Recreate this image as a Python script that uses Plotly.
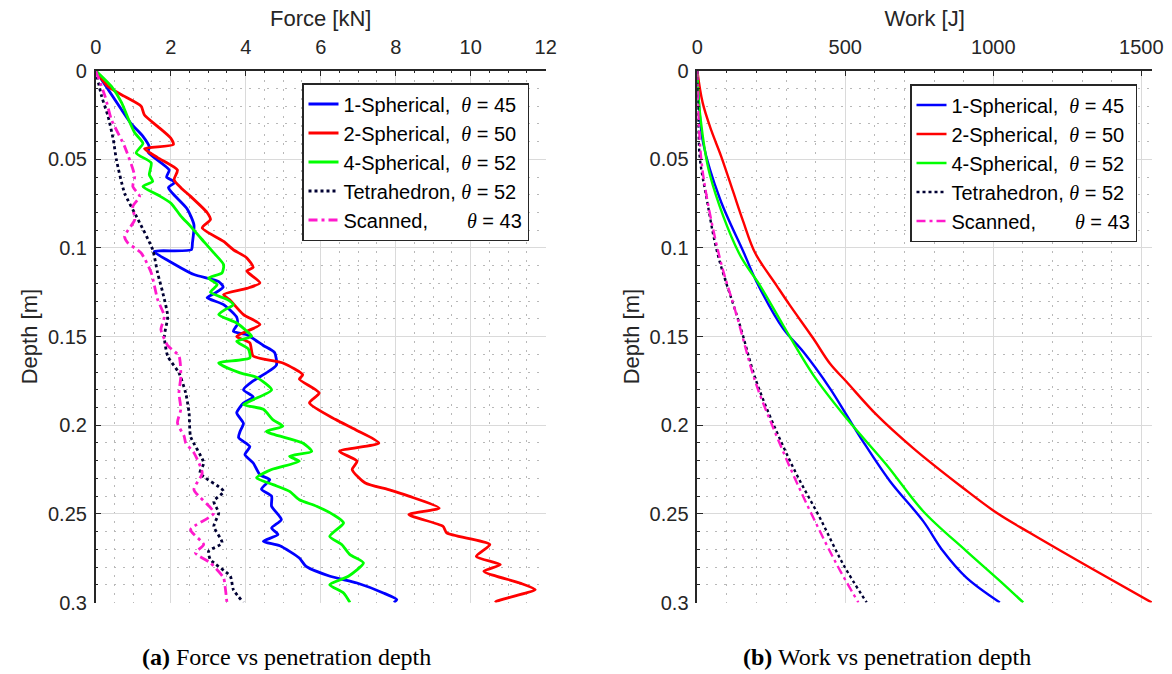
import plotly.graph_objects as go

# ---------------- data: (a) force vs depth ----------------
depth_f_sph1 = [0.000, 0.022, 0.030, 0.037, 0.043, 0.046, 0.056, 0.060, 0.063, 0.066, 0.078, 0.087, 0.097,
                0.101, 0.102, 0.109, 0.115, 0.119, 0.122, 0.1255, 0.128, 0.132, 0.139, 0.143, 0.147, 0.149,
                0.155, 0.159, 0.166, 0.1705, 0.175, 0.180, 0.184, 0.1875, 0.193, 0.199, 0.2035, 0.207, 0.212,
                0.2166, 0.2213, 0.228, 0.2307, 0.236, 0.240, 0.2457, 0.2532, 0.258, 0.2617, 0.2655, 0.268,
                0.2749, 0.2796, 0.2852, 0.289, 0.2946, 0.2984, 0.300]
force_sph1 = [0.00, 0.69, 0.95, 1.26, 1.43, 1.40, 1.96, 1.89, 2.11, 1.94, 2.44, 2.62, 2.58,
              2.55, 1.56, 2.09, 2.62, 3.28, 3.40, 3.18, 2.97, 3.41, 3.76, 3.78, 3.67, 4.03,
              4.47, 4.77, 4.82, 4.55, 4.20, 3.94, 4.20, 3.94, 3.76, 3.94, 3.85, 3.81, 4.11,
              3.98, 4.20, 4.38, 4.64, 4.42, 4.69, 4.69, 4.95, 4.69, 4.86, 4.47, 4.91,
              5.43, 5.61, 6.25, 6.97, 7.67, 8.03, 7.95]

depth_f_sph2 = [0.000, 0.0089, 0.0145, 0.020, 0.025, 0.0314, 0.038, 0.0417, 0.044, 0.049, 0.056, 0.0615,
                0.066, 0.0709, 0.080, 0.084, 0.0887, 0.0963, 0.101, 0.1056, 0.111, 0.113, 0.1197, 0.1228,
                0.1263, 0.1294, 0.1376, 0.1432, 0.1499, 0.1536, 0.161, 0.1649, 0.1715, 0.174, 0.1818,
                0.1874, 0.1968, 0.2025, 0.210, 0.2147, 0.2203, 0.225, 0.2326, 0.2363, 0.240, 0.2467,
                0.2504, 0.257, 0.2607, 0.2673, 0.274, 0.2786, 0.2824, 0.289, 0.2927, 0.2965, 0.2993, 0.300]
force_sph2 = [0.00, 0.33, 0.77, 1.21, 1.30, 1.65, 2.00, 2.07, 1.30, 1.65, 2.18, 2.09,
              2.27, 2.53, 2.97, 3.06, 2.84, 3.41, 3.67, 4.03, 4.20, 4.03, 4.38, 4.03,
              3.41, 3.58, 3.94, 4.38, 3.76, 4.11, 4.20, 4.99, 5.52, 5.43, 5.96,
              5.70, 6.40, 6.93, 7.55, 6.50, 6.97, 6.84, 7.19, 7.81, 8.35, 9.16,
              8.35, 9.26, 9.36, 10.51, 10.15, 10.79, 10.35, 11.31, 11.72, 11.14, 10.69, 10.65]

depth_f_sph4 = [0.000, 0.0089, 0.018, 0.0267, 0.035, 0.041, 0.0464, 0.052, 0.0587, 0.0624, 0.0653, 0.070,
                0.0746, 0.082, 0.0878, 0.0944, 0.1028, 0.1094, 0.114, 0.117, 0.1207, 0.125, 0.129, 0.132,
                0.1348, 0.1376, 0.1423, 0.147, 0.1499, 0.1527, 0.157, 0.162, 0.1649, 0.1705, 0.173, 0.180,
                0.1856, 0.1884, 0.191, 0.197, 0.2006, 0.2035, 0.210, 0.2147, 0.2175, 0.2203, 0.225,
                0.2297, 0.2335, 0.2373, 0.242, 0.2457, 0.2504, 0.2551, 0.2627, 0.2673, 0.273, 0.2777,
                0.2852, 0.290, 0.2946, 0.300]
force_sph4 = [0.00, 0.42, 0.69, 0.86, 1.04, 1.26, 1.08, 1.48, 1.43, 1.52, 1.26, 1.65,
              2.00, 2.27, 2.53, 2.80, 3.15, 3.41, 3.37, 3.01, 3.24, 3.06, 3.50, 3.67,
              3.45, 3.28, 3.76, 4.03, 4.16, 3.76, 4.07, 4.11, 3.28, 3.85, 4.29, 4.69,
              4.20, 3.94, 4.47, 4.73, 4.99, 4.55, 5.52, 5.76, 5.17, 5.43, 4.69,
              4.29, 4.73, 5.17, 5.43, 5.89, 6.33, 6.61, 6.24, 6.56, 6.78, 7.14,
              6.74, 6.24, 6.61, 6.78]

depth_f_tetra = [0.000, 0.0145, 0.0258, 0.039, 0.050, 0.069, 0.084, 0.101, 0.114, 0.1254, 0.1386, 0.150,
                 0.161, 0.1705, 0.1818, 0.193, 0.2063, 0.2213, 0.227, 0.2373, 0.2429, 0.2495, 0.257,
                 0.2664, 0.2711, 0.2758, 0.2852, 0.2927, 0.300]
force_tetra = [0.00, 0.16, 0.33, 0.47, 0.55, 0.77, 1.13, 1.52, 1.65, 1.79, 1.92, 1.83,
               1.92, 2.22, 2.40, 2.49, 2.53, 2.88, 2.78, 3.41, 3.15, 3.28, 3.15,
               3.37, 3.01, 3.06, 3.59, 3.67, 3.94]

depth_f_scan = [0.000, 0.0145, 0.0276, 0.0427, 0.0596, 0.0653, 0.0709, 0.0765, 0.084, 0.0935, 0.097,
                0.1028, 0.114, 0.129, 0.1386, 0.146, 0.155, 0.161, 0.1724, 0.1818, 0.191, 0.1987,
                0.2063, 0.210, 0.2156, 0.227, 0.2363, 0.2495, 0.2589, 0.2673, 0.272, 0.2777, 0.2861,
                0.2909, 0.300]
force_scan = [0.00, 0.25, 0.42, 0.77, 1.04, 0.99, 1.17, 0.99, 1.04, 0.77, 0.85,
              1.21, 1.48, 1.65, 1.83, 1.74, 1.92, 2.22, 2.27, 2.22, 2.27, 2.18,
              2.36, 2.40, 2.62, 2.84, 2.62, 3.15, 2.53, 2.88, 2.66, 3.06, 3.41,
              3.45, 3.50]

# ---------------- data: (b) work vs depth ----------------
depth_w_sph1 = [0.000, 0.024, 0.041, 0.0725, 0.103, 0.119, 0.1455, 0.1586, 0.1792, 0.1942, 0.2092, 0.2316,
                0.2541, 0.271, 0.286, 0.300]
work_sph1 = [0, 8, 20, 77, 158, 200, 290, 358, 448, 504, 560, 651, 763, 830, 909, 1022]

depth_w_sph2 = [0.000, 0.018, 0.034, 0.048, 0.0687, 0.085, 0.103, 0.1212, 0.1324, 0.1511, 0.1652, 0.1755, 0.1942,
                0.2129, 0.2354, 0.2494, 0.2607, 0.2803, 0.300]
work_sph2 = [0, 18, 48, 80, 122, 155, 196, 268, 313, 392, 448, 504, 606, 729, 898, 1011, 1123, 1326, 1535]

depth_w_sph4 = [0.000, 0.024, 0.059, 0.103, 0.1212, 0.1436, 0.1717, 0.1961, 0.2223, 0.2485, 0.271, 0.2878, 0.300]
work_sph4 = [0, 9, 43, 141, 212, 290, 392, 504, 639, 763, 909, 1022, 1101]

depth_w_tetra = [0.000, 0.012, 0.030, 0.050, 0.0725, 0.103, 0.1436, 0.1755, 0.2036, 0.2279, 0.2522, 0.2785, 0.300]
work_tetra = [0, 0, 3, 9, 32, 68, 144, 200, 268, 336, 414, 493, 572]

depth_w_scan = [0.000, 0.030, 0.059, 0.105, 0.138, 0.1755, 0.2017, 0.2279, 0.2522, 0.2785, 0.300]
work_scan = [0, 5, 20, 75, 133, 196, 257, 324, 392, 471, 544]

# ---------------- labels & styles ----------------
NB = "\u00a0"
TH = "<i><span style='font-family:Liberation Serif'>θ</span></i>"
labels = [
    f"1-Spherical,{NB}{NB}{TH} = 45",
    f"2-Spherical,{NB}{NB}{TH} = 50",
    f"4-Spherical,{NB}{NB}{TH} = 52",
    f"Tetrahedron,{NB}{TH} = 52",
    f"Scanned,{NB*7}{TH} = 43",
]
colors = ["#0000ff", "#ff0000", "#00ff00", "#000033", "#ff1acc"]
dashes = ["solid", "solid", "solid", "dot", "9px,4px,3px,4px"]

force_sets = [(force_sph1, depth_f_sph1), (force_sph2, depth_f_sph2), (force_sph4, depth_f_sph4),
              (force_tetra, depth_f_tetra), (force_scan, depth_f_scan)]
work_sets = [(work_sph1, depth_w_sph1), (work_sph2, depth_w_sph2), (work_sph4, depth_w_sph4),
             (work_tetra, depth_w_tetra), (work_scan, depth_w_scan)]

fig = go.Figure()
for (xv, yv), lab, c, d in zip(force_sets, labels, colors, dashes):
    fig.add_trace(go.Scatter(x=xv, y=yv, mode="lines", name=lab, xaxis="x", yaxis="y",
                             line=dict(color=c, width=2.8, dash=d, shape="spline", smoothing=0.6),
                             legend="legend"))
for (xv, yv), lab, c, d in zip(work_sets, labels, colors, dashes):
    fig.add_trace(go.Scatter(x=xv, y=yv, mode="lines", name=lab, xaxis="x2", yaxis="y2",
                             line=dict(color=c, width=2.4, dash=d, shape="spline", smoothing=1.0),
                             legend="legend2"))

W, H = 1172, 674
AX = "#262626"
tickfont = dict(family="Liberation Sans, Arial, sans-serif", size=20, color=AX)
titlefont = dict(family="Liberation Sans, Arial, sans-serif", size=22, color=AX)
ydom = [1 - 602.5 / H, 1 - 70.7 / H]


def xax(dom, rng, dtick, mdtick, title):
    return dict(domain=dom, range=rng, side="top", dtick=dtick, tick0=0,
                ticks="inside", ticklen=6, tickwidth=1, tickcolor=AX,
                showline=True, linecolor=AX, linewidth=1.5, mirror=False,
                showgrid=True, gridcolor="#dadada", gridwidth=1, zeroline=False,
                minor=dict(dtick=mdtick, ticks="inside", ticklen=3, tickcolor=AX,
                           showgrid=True, gridcolor="#b8b8b8", griddash="2px,7px", gridwidth=1),
                tickfont=tickfont, ticklabelstandoff=7, automargin=False,
                title=dict(text=title, font=titlefont, standoff=3))


def yax(anchor):
    return dict(domain=ydom, range=[0.3, 0], dtick=0.05, tick0=0, anchor=anchor,
                ticks="inside", ticklen=6, tickwidth=1, tickcolor=AX,
                showline=True, linecolor=AX, linewidth=1.5, mirror=False,
                showgrid=True, gridcolor="#dadada", gridwidth=1, zeroline=False,
                minor=dict(dtick=0.01, ticks="inside", ticklen=3, tickcolor=AX,
                           showgrid=True, gridcolor="#b8b8b8", griddash="2px,7px", gridwidth=1),
                tickfont=tickfont, ticklabelstandoff=3, automargin=False,
                title=dict(text="Depth [m]", font=titlefont, standoff=4))


legfont = dict(family="Liberation Sans, Arial, sans-serif", size=20, color="#000000")
capfont = dict(family="Liberation Serif, Times New Roman, serif", size=24, color="#000")
fig.update_layout(
    width=W, height=H, margin=dict(l=0, r=0, t=0, b=0),
    paper_bgcolor="white", plot_bgcolor="white",
    xaxis=xax([95.7 / W, 545.7 / W], [0, 12], 2, 0.5, "Force [kN]") | dict(anchor="y"),
    yaxis=yax("x"),
    xaxis2=xax([697.3 / W, 1152 / W], [0, 1536], 500, 100, "Work [J]") | dict(anchor="y2"),
    yaxis2=yax("x2"),
    legend=dict(x=529 / W, y=1 - 83 / H, xanchor="right", yanchor="top", bgcolor="white",
                bordercolor=AX, borderwidth=1.5, font=legfont, tracegroupgap=0),
    legend2=dict(x=1137 / W, y=1 - 84 / H, xanchor="right", yanchor="top", bgcolor="white",
                 bordercolor=AX, borderwidth=1.5, font=legfont, tracegroupgap=0),
    showlegend=True,
    annotations=[
        dict(text="<b>(a)</b> Force vs penetration depth", x=286 / W, y=1 - 657 / H,
             xref="paper", yref="paper", showarrow=False, xanchor="center", yanchor="middle",
             font=capfont),
        dict(text="<b>(b)</b> Work vs penetration depth", x=887 / W, y=1 - 657 / H,
             xref="paper", yref="paper", showarrow=False, xanchor="center", yanchor="middle",
             font=capfont),
    ],
)

fig.write_html("out.html", config={"displayModeBar": False},
               post_script="document.body.style.margin='0px';document.body.style.overflow='hidden';")
